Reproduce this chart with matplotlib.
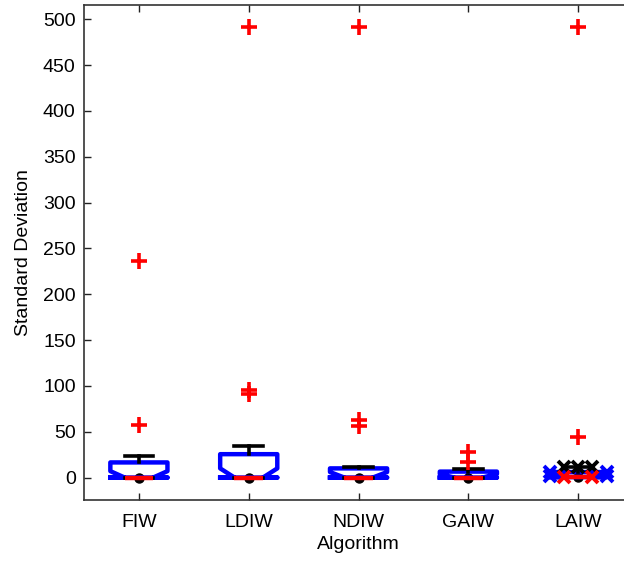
import matplotlib
matplotlib.use("Agg")
import matplotlib.pyplot as plt

plt.rcParams['font.family'] = ['Liberation Sans', 'DejaVu Sans']

# Per-algorithm box statistics (standard deviation of results)
algorithms = ['FIW', 'LDIW', 'NDIW', 'GAIW', 'LAIW']
q1 = [0.0, 0.0, 0.0, 0.0, 0.5]
medians = [0.0, 0.0, 0.0, 0.0, 0.5]
q3 = [16.5, 25.5, 10.0, 6.5, 6.0]
whisker_low = [0.0, 0.0, 0.0, 0.0, 0.5]
whisker_high = [23.5, 34.0, 12.0, 9.0, 11.5]
notch_high = [7.0, 10.0, 6.0, 4.0, 6.0]
outliers = [
    [57.0, 236.0],
    [91.0, 95.0, 491.0],
    [56.0, 63.0, 491.0],
    [17.0, 28.0],
    [44.0, 491.0],
]

positions = list(range(1, len(algorithms) + 1))
box_width = 0.52

fig = plt.figure(figsize=(6.24, 5.62), dpi=100)
ax = fig.add_axes([0.1346, 0.1103, 0.88, 0.8808])

stats = []
for i, name in enumerate(algorithms):
    stats.append(dict(
        label=name, med=medians[i], q1=q1[i], q3=q3[i],
        whislo=whisker_low[i], whishi=whisker_high[i],
        cilo=q1[i], cihi=notch_high[i], fliers=outliers[i],
    ))

# center markers under the median lines
ax.plot(positions, medians, linestyle='none', marker='o', markersize=6.5,
        color='black', zorder=1.5)

ax.bxp(stats, positions=positions, widths=box_width, shownotches=True,
       boxprops=dict(color='#0000ff', linewidth=3.2),
       medianprops=dict(color='#ff0000', linewidth=3.2),
       whiskerprops=dict(color='black', linewidth=2.6),
       capprops=dict(color='black', linewidth=2.6),
       flierprops=dict(marker='+', markersize=11, markeredgewidth=2.6,
                       markeredgecolor='#ff0000', linestyle='none'),
       capwidths=box_width / 2)

# compressed box for the last algorithm: corner, median and cap markers
last = len(algorithms) - 1
p = positions[last]
half = box_width / 2
quarter = box_width / 4
mk = dict(linestyle='none', marker='x', markersize=8, markeredgewidth=2.8)
ax.plot([p - half, p + half, p - half, p + half],
        [q1[last] + 1.5, q1[last] + 1.5, q3[last], q3[last]],
        color='#0000ff', zorder=3, **mk)
ax.plot([p - quarter, p + quarter], [medians[last], medians[last]],
        color='#ff0000', zorder=3.2, **mk)
ax.plot([p - quarter, p, p + quarter], [whisker_high[last]] * 3,
        color='black', zorder=3.1, **mk)

ax.set_xlim(0.5, len(algorithms) + 0.5)
ax.set_ylim(-24.5, 515.5)
ax.set_yticks(range(0, 501, 50))
ax.set_xticks(positions)
ax.set_xticklabels(algorithms)

ax.tick_params(direction='in', length=5, width=1, labelsize=14,
               top=True, right=True, colors='#222222', labelcolor='black')
ax.tick_params(axis='x', pad=10)
ax.tick_params(axis='y', pad=6)
for s in ax.spines.values():
    s.set_linewidth(1.2)
    s.set_color('#333333')

ax.set_xlabel('Algorithm', fontsize=14, labelpad=4)
ax.set_ylabel('Standard Deviation', fontsize=14, labelpad=8)

fig.savefig('out.png', dpi=100)
